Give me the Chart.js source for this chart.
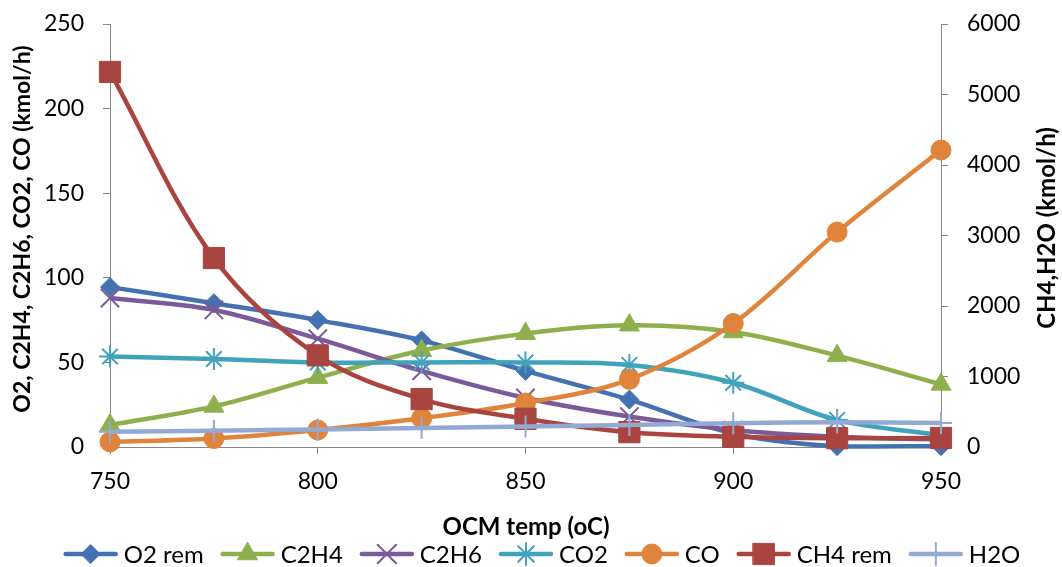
<!DOCTYPE html>
<html>
<head>
<meta charset="utf-8">
<script src="https://cdn.jsdelivr.net/npm/chart.js@4/dist/chart.umd.min.js"></script>
<style>
  html, body { margin: 0; padding: 0; background: #fff; }
  #wrap { width: 1062px; height: 567px; position: relative; }
</style>
</head>
<body>
<div id="wrap"><canvas id="c"></canvas></div>
<script>
// OCM reactor temperature sweep (oC)
const temps = [750, 775, 800, 825, 850, 875, 900, 925, 950];

// Left axis species, kmol/h
const o2Rem = [94.5, 85, 75, 63, 45, 28, 8, 0.5, 0.5];
const c2h4  = [13, 24, 41, 57, 67, 72, 68, 54, 37];
const c2h6  = [88, 81, 64, 45, 29, 18, 10, 6, 4.5];
const co2   = [53.5, 52, 50, 50, 50, 48.5, 38, 16, 7];
const co    = [3, 5, 10, 17, 26, 40, 73, 127, 175.5];

// Right axis species, kmol/h
const ch4Rem = [5320, 2680, 1300, 680, 400, 210, 145, 125, 128];
const h2o    = [215, 232, 248, 268, 290, 312, 338, 350, 340];

const leftTicks  = { min: 0, max: 250, step: 50 };
const rightTicks = { min: 0, max: 6000, step: 1000 };
const xTicks     = { min: 750, max: 950, step: 50 };

const FONT = 'Lato';
const AXIS_GREY = '#868686';

function pts(values) {
  return values.map((v, i) => ({ x: temps[i], y: v }));
}

const series = [
  { label: 'O2 rem',  data: o2Rem,  axis: 'yL', color: '#4472B0', fill: '#4472B0', style: 'rectRot',  r: 9.5,  bw: 1 },
  { label: 'C2H4',    data: c2h4,   axis: 'yL', color: '#8EB04C', fill: '#8EB04C', style: 'triangle', r: 11.5, bw: 1 },
  { label: 'C2H6',    data: c2h6,   axis: 'yL', color: '#7A5A98', fill: '#7A5A98', style: 'crossRot', r: 13,   bw: 2 },
  { label: 'CO2',     data: co2,    axis: 'yL', color: '#41A2BC', fill: '#41A2BC', style: 'star',     r: 11,   bw: 2 },
  { label: 'CO',      data: co,     axis: 'yL', color: '#E0843B', fill: '#E0843B', style: 'circle',   r: 10,   bw: 1 },
  { label: 'CH4 rem', data: ch4Rem, axis: 'yR', color: '#A94441', fill: '#A94441', style: 'rect',     r: 15,   bw: 1 },
  { label: 'H2O',     data: h2o,    axis: 'yR', color: '#92AAD3', fill: '#92AAD3', style: 'cross',    r: 11,   bw: 2 }
];

const datasets = series.map((s, i) => ({
  label: s.label,
  data: pts(s.data),
  yAxisID: s.axis,
  borderColor: s.color,
  backgroundColor: s.fill,
  borderWidth: 4.5,
  tension: 0.35,
  pointStyle: s.style,
  pointRadius: s.r,
  pointBorderWidth: s.bw,
  pointBorderColor: s.color,
  pointBackgroundColor: s.fill,
  clip: false,
  order: series.length - i
}));

// Axis titles and a legend that shows the line together with its marker
const decorations = {
  id: 'decorations',
  afterDraw(chart) {
    const ctx = chart.ctx;
    ctx.save();
    ctx.fillStyle = '#000';
    ctx.textBaseline = 'middle';

    ctx.textAlign = 'center';
    // left title
    ctx.font = 'bold 23px ' + FONT;
    ctx.save();
    ctx.translate(23, 229);
    ctx.rotate(-Math.PI / 2);
    ctx.fillText('O2, C2H4, C2H6, CO2, CO (kmol/h)', 0, 0);
    ctx.restore();
    // right title
    ctx.font = 'bold 24px ' + FONT;
    ctx.save();
    ctx.translate(1047, 228);
    ctx.rotate(-Math.PI / 2);
    ctx.fillText('CH4,H2O (kmol/h)', 0, 0);
    ctx.restore();
    // x title
    ctx.fillText('OCM temp (oC)', 526, 527);

    // legend
    ctx.font = '24px ' + FONT;
    ctx.textAlign = 'left';
    const lineLen = 54, textGap = 6, itemGap = 17;
    const widths = series.map(s => ctx.measureText(s.label).width);
    let total = 0;
    widths.forEach((w, i) => { total += lineLen + textGap + w + (i < widths.length - 1 ? itemGap : 0); });
    let x = 542 - total / 2;
    const y = 554;
    series.forEach((s, i) => {
      ctx.strokeStyle = s.color;
      ctx.lineWidth = 4.5;
      ctx.lineCap = 'round';
      ctx.beginPath();
      ctx.moveTo(x + 2, y);
      ctx.lineTo(x + lineLen - 2, y);
      ctx.stroke();
      ctx.fillStyle = s.fill;
      ctx.strokeStyle = s.color;
      ctx.lineWidth = s.bw;
      Chart.helpers.drawPoint(ctx, { pointStyle: s.style, radius: s.r, borderWidth: s.bw, rotation: 0 }, x + lineLen / 2, y);
      ctx.fillStyle = '#000';
      ctx.fillText(s.label, x + lineLen + textGap, y + 1);
      x += lineLen + textGap + widths[i] + itemGap;
    });
    ctx.restore();
  }
};

const tickFont = { family: FONT, size: 23 };
const plain = v => String(v);

function fixVertical(width) {
  return s => { s.width = width; s.paddingTop = 0; s.paddingBottom = 0; };
}

new Chart(document.getElementById('c'), {
  type: 'line',
  data: { datasets },
  plugins: [decorations],
  options: {
    responsive: true,
    maintainAspectRatio: false,
    animation: false,
    events: [],
    layout: { padding: { top: 24, left: 0, right: 0, bottom: 0 } },
    plugins: { legend: { display: false }, tooltip: { enabled: false } },
    scales: {
      x: {
        type: 'linear',
        position: 'bottom',
        min: xTicks.min, max: xTicks.max,
        ticks: { stepSize: xTicks.step, color: '#000', font: tickFont, padding: 14, maxRotation: 0, callback: plain },
        grid: { drawOnChartArea: false, drawTicks: true, tickLength: 7, color: AXIS_GREY },
        border: { display: true, color: AXIS_GREY, width: 1 },
        afterFit(s) { s.height = 120; s.paddingLeft = 0; s.paddingRight = 0; }
      },
      yL: {
        type: 'linear',
        position: 'left',
        min: leftTicks.min, max: leftTicks.max,
        ticks: { stepSize: leftTicks.step, color: '#000', font: tickFont, padding: 19, callback: plain },
        grid: { drawOnChartArea: false, drawTicks: true, tickLength: 7, color: AXIS_GREY },
        border: { display: true, color: AXIS_GREY, width: 1 },
        afterFit: fixVertical(110)
      },
      yR: {
        type: 'linear',
        position: 'right',
        min: rightTicks.min, max: rightTicks.max,
        ticks: { stepSize: rightTicks.step, color: '#000', font: tickFont, padding: 19, callback: plain },
        grid: { drawOnChartArea: false, drawTicks: true, tickLength: 7, color: AXIS_GREY },
        border: { display: true, color: AXIS_GREY, width: 1 },
        afterFit: fixVertical(121)
      }
    }
  }
});
</script>
</body>
</html>
